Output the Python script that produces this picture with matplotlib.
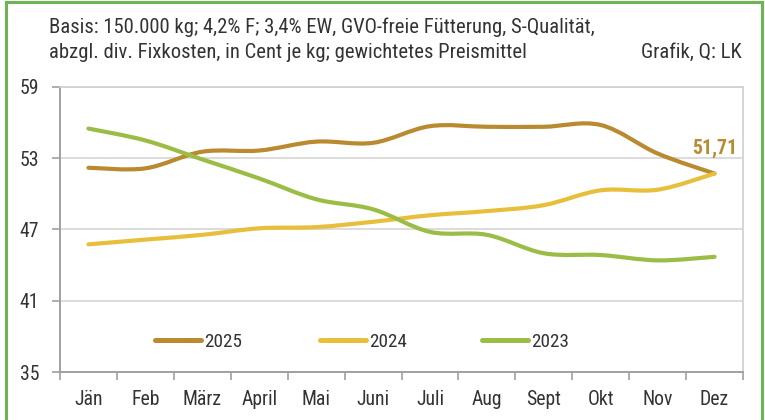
import numpy as np
import matplotlib.pyplot as plt
from matplotlib import font_manager
from matplotlib.path import Path
from matplotlib.patches import PathPatch, Rectangle
from matplotlib.lines import Line2D
from matplotlib.legend import Legend

# pick a narrow font if one is installed
names = {f.name for f in font_manager.fontManager.ttflist}
narrow = [n for n in ['Liberation Sans Narrow', 'Roboto Condensed', 'Open Sans Condensed',
                      'DejaVu Sans Condensed', 'Noto Sans Condensed'] if n in names]
stretch_cond = [f for f in font_manager.fontManager.ttflist if f.stretch == 'condensed']
scale = 1.0
if narrow:
    plt.rcParams['font.family'] = [narrow[0], 'DejaVu Sans']
elif stretch_cond:
    plt.rcParams['font.family'] = [stretch_cond[0].name, 'DejaVu Sans']
    plt.rcParams['font.stretch'] = 'condensed'
    scale = 12 / 13
else:
    plt.rcParams['font.family'] = ['DejaVu Sans']
    scale = 11 / 13

fs_title = 14.9 * scale
fs_tick = 14.2 * scale
fs_leg = 13.8 * scale

months = ['Jän', 'Feb', 'März', 'April', 'Mai', 'Juni', 'Juli', 'Aug', 'Sept', 'Okt', 'Nov', 'Dez']
y_2025 = [52.2, 52.15, 53.55, 53.65, 54.4, 54.3, 55.7, 55.65, 55.65, 55.8, 53.4, 51.71]
y_2024 = [45.75, 46.15, 46.55, 47.1, 47.2, 47.65, 48.2, 48.55, 49.05, 50.3, 50.35, 51.71]
y_2023 = [55.5, 54.5, 52.9, 51.3, 49.55, 48.7, 46.8, 46.55, 45.0, 44.85, 44.4, 44.7]
y_ticks = [35, 41, 47, 53, 59]
series_names = ['2025', '2024', '2023']

c_2025 = '#B98A2F'
c_2024 = '#E7BF3A'
c_2023 = '#9BBD45'


def smooth_path(x, y):
    # catmull-rom style bezier segments, like excel's smoothed line
    x = np.asarray(x, float)
    y = np.asarray(y, float)
    verts = [(x[0], y[0])]
    codes = [Path.MOVETO]
    n = len(x)
    for i in range(n - 1):
        x0, y0 = (x[i - 1], y[i - 1]) if i > 0 else (x[i], y[i])
        x3, y3 = (x[i + 2], y[i + 2]) if i + 2 < n else (x[i + 1], y[i + 1])
        c1 = (x[i] + (x[i + 1] - x0) / 6, y[i] + (y[i + 1] - y0) / 6)
        c2 = (x[i + 1] - (x3 - x[i]) / 6, y[i + 1] - (y3 - y[i]) / 6)
        verts += [c1, c2, (x[i + 1], y[i + 1])]
        codes += [Path.CURVE4] * 3
    return Path(verts, codes)


fig = plt.figure(figsize=(7.65, 4.2), dpi=100)
ax = fig.add_axes([60 / 765, 1 - 372 / 420, 683 / 765, 285 / 420])

xs = np.arange(len(months))
for vals, col in [(y_2025, c_2025), (y_2024, c_2024), (y_2023, c_2023)]:
    ax.add_patch(PathPatch(smooth_path(xs, vals), fill=False, edgecolor=col, lw=3.0,
                           capstyle='round', joinstyle='round', zorder=3))

ax.set_xlim(-0.5, 11.5)
ax.set_ylim(35, 59)
ax.set_yticks(y_ticks)
ax.set_yticklabels([str(t) for t in y_ticks], fontsize=fs_tick, color='#333333')
ax.grid(axis='y', color='#D6D6D6', lw=1.2)
ax.set_axisbelow(True)

ax.set_xticks(xs)
ax.set_xticklabels(months, fontsize=fs_tick, color='#333333')
ax.tick_params(axis='x', length=0, pad=13)
ax.set_xticks(np.arange(-0.5, 12, 1), minor=True)
ax.tick_params(axis='x', which='minor', length=6, color='#A0A0A0', width=1.2)
ax.tick_params(axis='y', length=6, color='#A0A0A0', width=1.2, pad=9)

for s in ['top', 'right']:
    ax.spines[s].set_color('#D0D0D0')
    ax.spines[s].set_linewidth(1.2)
for s in ['left', 'bottom']:
    ax.spines[s].set_color('#A0A0A0')
    ax.spines[s].set_linewidth(1.4)

ax.annotate('51,71', (11, y_2025[-1]), xytext=(0, 11.5), textcoords='offset points',
            ha='center', va='bottom', fontsize=fs_tick, fontweight='bold', color=c_2025)

# one small legend per series so the spacing matches the original
leg_x = [155, 320, 482]
for name, col, px in zip(series_names, (c_2025, c_2024, c_2023), leg_x):
    h = Line2D([], [], color=col, lw=3.6, solid_capstyle='round')
    lg = Legend(ax, [h], [name], loc='center left', bbox_to_anchor=((px - 60) / 683, 30 / 285),
                frameon=False, fontsize=fs_leg, handlelength=46 / (fs_leg * 100 / 72),
                handletextpad=0.15, borderpad=0, borderaxespad=0, labelcolor='#333333')
    ax.add_artist(lg)

fig.text(49 / 765, 1 - 27 / 420, 'Basis: 150.000 kg; 4,2% F; 3,4% EW, GVO-freie Fütterung, S-Qualität,',
         fontsize=fs_title, color='#333333', va='center')
fig.text(49 / 765, 1 - 52 / 420, 'abzgl. div. Fixkosten, in Cent je kg; gewichtetes Preismittel',
         fontsize=fs_title, color='#333333', va='center')
fig.text(742 / 765, 1 - 52 / 420, 'Grafik, Q: LK', fontsize=fs_title, color='#333333', va='center', ha='right')

# green frame around the graphic
fig.patches.append(Rectangle((6 / 765, -0.05), 756 / 765, 1.05 - 1.5 / 420, transform=fig.transFigure,
                             fill=False, edgecolor='#6DB454', lw=2.2))

fig.savefig('out.png', dpi=100)
